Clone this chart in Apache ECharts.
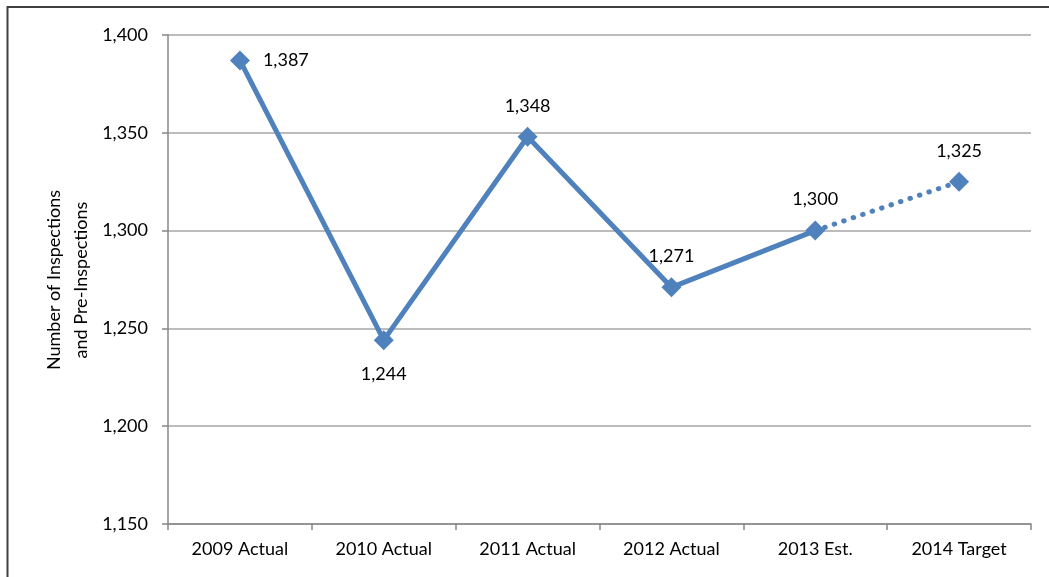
<!DOCTYPE html>
<html>
<head>
<meta charset="utf-8">
<script src="https://cdn.jsdelivr.net/npm/echarts@6/dist/echarts.min.js"></script>
<style>
  html, body { margin: 0; padding: 0; background: #fff; }
  #chart { width: 1049px; height: 577px; }
</style>
</head>
<body>
<div id="chart"></div>
<script>
// Inspections and pre-inspections per year
const categories = ['2009 Actual', '2010 Actual', '2011 Actual', '2012 Actual', '2013 Est.', '2014 Target'];
const inspections = [1387, 1244, 1348, 1271, 1300, 1325];
const yTicks = [1150, 1200, 1250, 1300, 1350, 1400];
const yAxisTitle = 'Number of Inspections\nand Pre-Inspections';

// the last point is a target, drawn with a dotted connector from the estimate
const lastIdx = inspections.length - 1;
const blue = '#4F81BD';
const fontFamily = 'Lato, "Open Sans", sans-serif';
const fontSize = 18;
const fmt = v => Number(v).toLocaleString('en-US');

// label placement per point (right, below, or above the marker)
function labelFor(i) {
  if (i === 0) return { position: 'right', distance: 13 };
  if (i === 1) return { position: 'bottom', distance: 15 };
  return { position: 'top', distance: 12 };
}

const solidData = inspections.map((v, i) => i < lastIdx ? {
  value: v,
  label: Object.assign({ show: true }, labelFor(i))
} : '-');

const dottedData = inspections.map((v, i) => {
  if (i === lastIdx - 1) return { value: v, symbol: 'none', label: { show: false } };
  if (i === lastIdx) return { value: v, label: Object.assign({ show: true }, labelFor(i)) };
  return '-';
});

const labelStyle = {
  color: '#000',
  fontSize: fontSize,
  fontFamily: fontFamily,
  formatter: p => fmt(p.value)
};

const chart = echarts.init(document.getElementById('chart'), null, { renderer: 'canvas' });
chart.setOption({
  animation: false,
  backgroundColor: '#fff',
  grid: { left: 168, right: 18, top: 35, bottom: 53, containLabel: false },
  xAxis: {
    type: 'category',
    data: categories,
    boundaryGap: true,
    axisLine: { lineStyle: { color: '#878787', width: 1.5 } },
    axisTick: { show: true, alignWithLabel: false, length: 6, lineStyle: { color: '#878787', width: 1.5 } },
    axisLabel: { color: '#000', fontSize: fontSize, fontFamily: fontFamily, margin: 16 },
    splitLine: { show: false }
  },
  yAxis: {
    type: 'value',
    min: yTicks[0],
    max: yTicks[yTicks.length - 1],
    interval: yTicks[1] - yTicks[0],
    axisLine: { show: true, lineStyle: { color: '#878787', width: 1.5 } },
    axisTick: { show: true, length: 6, lineStyle: { color: '#878787', width: 1.5 } },
    axisLabel: { color: '#000', fontSize: fontSize, fontFamily: fontFamily, margin: 20, formatter: v => fmt(v) },
    splitLine: { show: true, lineStyle: { color: '#A6A6A6', width: 1.5 } }
  },
  graphic: [
    {
      type: 'polyline',
      shape: { points: [[7.5, 577], [7.5, 7], [1049, 7]] },
      style: { stroke: '#404040', lineWidth: 2, fill: null },
      silent: true
    },
    {
      type: 'text',
      x: 68,
      y: 280,
      rotation: Math.PI / 2,
      style: {
        text: yAxisTitle,
        fill: '#000',
        font: fontSize + 'px ' + fontFamily,
        align: 'center',
        verticalAlign: 'middle',
        lineHeight: 27
      },
      silent: true
    }
  ],
  series: [
    {
      type: 'line',
      data: dottedData,
      z: 2,
      symbol: 'diamond',
      symbolSize: 20,
      itemStyle: { color: blue },
      lineStyle: { color: blue, width: 5, type: [0.5, 9.5], cap: 'round' },
      label: labelStyle
    },
    {
      type: 'line',
      data: solidData,
      z: 3,
      symbol: 'diamond',
      symbolSize: 20,
      itemStyle: { color: blue },
      lineStyle: { color: blue, width: 5 },
      label: labelStyle
    }
  ]
});
</script>
</body>
</html>
